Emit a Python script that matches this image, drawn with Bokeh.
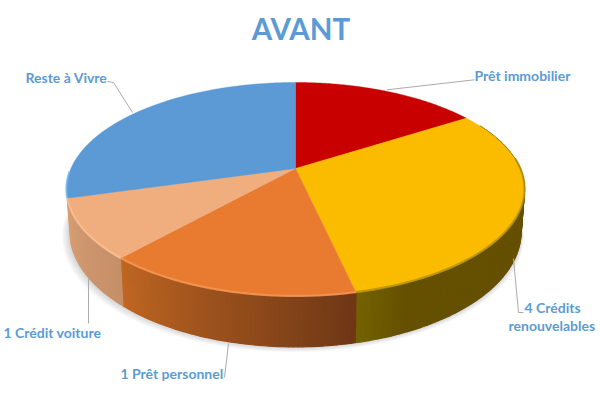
import numpy as np
from bokeh.plotting import figure
from bokeh.models import Range1d
from bokeh.core.properties import value
from bokeh.embed import file_html
from bokeh.resources import INLINE

title_text = "AVANT"
categories = ["Prêt immobilier", "4 Crédits renouvelables", "1 Prêt personnel", "1 Crédit voiture", "Reste à Vivre"]
shares = [15.9, 30.6, 15.1, 9.0, 29.4]
top_colors = ["#C90000", "#FBBC00", "#E97B30", "#F0AE7F", "#5B9AD4"]
wall_start = ["#7A0000", "#655000", "#6E3716", "#C58F68", None]
wall_end = ["#7A0000", "#746200", "#C06622", "#D79E74", None]
rim_colors = [None, "#A88A00", "#F79C5E", "#FCC497", "#6DB6F5"]

# projection of the pie disc, in reference pixel units
CX, AY, BX, BY, K, DEPTH = 295.0, 168.0, 224.6, 102.9, 0.196, 40.5

def top_pt(t):
    x, y = np.sin(t), np.cos(t)
    w = 1 + K * y
    return CX + BX * x / w, AY - BY * y / w

def bottom_pt(t):
    x, y = np.sin(t), np.cos(t)
    w = 1 + K * y
    return CX + 0.985 * BX * x / w, AY - BY * y / w + DEPTH / w

def mix(a, b, f):
    ca = [int(a[i:i + 2], 16) for i in (1, 3, 5)]
    cb = [int(b[i:i + 2], 16) for i in (1, 3, 5)]
    return "#%02x%02x%02x" % tuple(int(round(p + (q - p) * f)) for p, q in zip(ca, cb))

p = figure(width=600, height=400, output_backend="svg", toolbar_location=None,
           x_range=Range1d(0, 600), y_range=Range1d(400, 0), min_border=0)
p.axis.visible = False
p.grid.visible = False
p.outline_line_color = None
p.background_fill_color = "#ffffff"
p.border_fill_color = "#ffffff"

# soft shadow under the disc
ring = np.linspace(0, 2 * np.pi, 181)
for off in [7, 6, 5, 4, 3, 2, 1]:
    bx, by = bottom_pt(ring)
    sx = CX + (bx - CX) * (1 + off * 0.0035) - off * 0.35
    p.patch(sx, by + off * 0.75, fill_color="#000000", fill_alpha=0.022, line_color=None)

bounds = np.deg2rad(np.concatenate([[0], np.cumsum(shares) / np.sum(shares) * 360]))

# walls
for i in range(len(shares)):
    if wall_start[i] is None:
        continue
    a, b = bounds[i], bounds[i + 1]
    n = max(2, int((b - a) / np.deg2rad(1)))
    ts = np.linspace(a, b, n + 1)
    xs, ys, cs = [], [], []
    for j in range(n):
        t0, t1 = ts[j], ts[j + 1]
        if np.cos((t0 + t1) / 2) > 0.45:
            continue
        xa, ya = top_pt(np.array([t0, t1]))
        xb, yb = bottom_pt(np.array([t1, t0]))
        xs.append(np.concatenate([xa, xb]).tolist())
        ys.append(np.concatenate([ya, yb]).tolist())
        f = (j + 0.5) / n
        if i == 1:
            f = max(0.0, (f - 0.9) / 0.1)   # olive only near the orange slice
        cs.append(mix(wall_start[i], wall_end[i], f))
    if xs:
        p.patches(xs, ys, fill_color=cs, line_color=cs, line_width=1.2)

# top faces
for i in range(len(shares)):
    ts = np.linspace(bounds[i], bounds[i + 1], 90)
    ex, ey = top_pt(ts)
    p.patch(np.concatenate([[CX], ex]), np.concatenate([[AY], ey]),
            fill_color=top_colors[i], line_color=top_colors[i], line_width=0.4)

# bevel along the front rim
for i in range(len(shares)):
    if rim_colors[i] is None:
        continue
    a, b = bounds[i], bounds[i + 1]
    if i == 1:
        a = np.deg2rad(85)
    if i == 4:
        b = np.deg2rad(268)
    ts = np.linspace(a, b, 70)
    ex, ey = top_pt(ts)
    p.line(ex, ey - 0.6, line_color=rim_colors[i], line_width=2.2, line_alpha=0.7)

# leaders
leader_x = [[386.5, 474], [132, 113, 107], [513, 518, 523], [88, 88], [228, 224]]
leader_y = [[89.3, 79.3], [112, 82, 81], [258, 312, 312], [278, 323], [343, 377]]
p.multi_line(leader_x, leader_y, line_color="#ABABAB", line_width=1)

# texts
font = value("Lato")
p.text([300.5], [28], text=[title_text], text_font=font, text_font_style="bold", text_font_size="29.5px",
       text_color="#5B9BD5", text_align="center", text_baseline="middle")
label_text = ["Prêt immobilier", "Reste à Vivre", "4 Crédits", "renouvelables", "1 Crédit voiture", "1 Prêt personnel"]
label_x = [474, 25, 524, 508, 3, 120]
label_y = [75, 77, 307, 325, 332, 373]
p.text(label_x, label_y, text=label_text, text_font=font, text_font_style="bold", text_font_size="14px",
       text_color="#5B9BD5", text_align="left", text_baseline="middle")

open("out.html", "w").write(file_html(p, INLINE))
